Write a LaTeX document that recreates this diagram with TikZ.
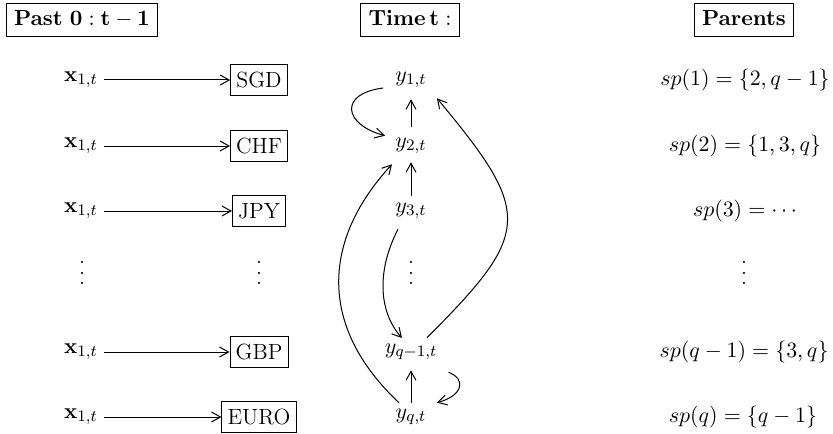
\documentclass[tikz,border=0pt]{standalone}
\usetikzlibrary{arrows.meta}
\newcommand\myvd{\vbox{\baselineskip5.2pt\lineskiplimit0pt\hbox{.}\hbox{.}\hbox{.}}}
\begin{document}
\begin{tikzpicture}[x=0.5pt,y=-0.5pt,
  every node/.style={font=\fontsize{11}{13}\selectfont},
  box/.style={draw,line width=0.5pt,inner xsep=2.8pt,inner ysep=3.8pt},
  hbox/.style={draw,line width=0.5pt,inner xsep=4pt,inner ysep=3.3pt,text height=7.6pt,text depth=2.2pt},
  lab/.style={inner sep=3pt},
  arr/.style={-{Straight Barb[length=4.5pt,width=5pt,line width=0.5pt]},line width=0.5pt},
  dts/.style={inner sep=0pt}]
\useasboundingbox (0,0) rectangle (833,433);
% headers
\node[hbox] (h1) at (82,20) {$\mathbf{Past\ 0:t-1}$};
\node[hbox] (h2) at (410,20) {$\mathbf{Time\,t:}$};
\node[hbox] (h3) at (744,20) {$\mathbf{Parents}$};
% left column
\foreach \n/\yy/\cur in {a/80/SGD,b/146/CHF,c/211/JPY,d/352/GBP,e/417/EURO}{
  \node[lab] (x\n) at (81,\yy) {$\mathbf{x}_{1,t}$};
  \node[box] (c\n) at (259,\yy) {\cur};
  \draw[arr] (x\n) -- (c\n);
}
\node[dts] (dl) at (82,273) {\myvd};
\node[dts] (dc) at (259,273) {\myvd};
% middle column
\node[lab] (y1) at (411,80) {$y_{1,t}$};
\node[lab] (y2) at (411,146) {$y_{2,t}$};
\node[lab] (y3) at (411,211) {$y_{3,t}$};
\node[dts] (dm) at (411,273) {\myvd};
\node[lab] (yq1) at (411,352) {$y_{q-1,t}$};
\node[lab] (yq) at (411,417) {$y_{q,t}$};
\draw[arr,shorten >=2.5pt,shorten <=2.5pt] (y2) -- (y1);
\draw[arr,shorten >=1pt,shorten <=0.5pt] (y3) -- (y2);
\draw[arr,shorten >=2pt] (yq) -- (yq1);
\draw[arr] ([shift={(-6,8)}]y1.west) .. controls +(-45,6) and +(-41,-11) .. ([shift={(-4,4)}]y2.north west);
\draw[arr] ([shift={(-13,4)}]y3.south) .. controls +(-20,38) and +(-25,-28) .. ([xshift=-4.5pt]yq1.south |- 0,338);
\draw[arr] ([shift={(5,6)}]yq1.south east) .. controls +(18,7) and +(26,-7) .. ([shift={(4,0)}]yq.north east);
\draw[arr] ([xshift=-6pt]yq.north) .. controls +(-79,-74) and +(-72,78) .. ([shift={(-19,4)}]y2.south);
\draw[arr] ([xshift=8pt]yq1.north) .. controls +(105,-105) and +(96,115) .. ([shift={(4,4)}]y1.south east);
% right column
\node[lab] (p1) at (745,80) {$sp(1)=\{2,q-1\}$};
\node[lab] (p2) at (745,146) {$sp(2)=\{1,3,q\}$};
\node[lab] (p3) at (745,211) {$sp(3)=\cdots$};
\node[dts] (dr) at (744,273) {\myvd};
\node[lab] (p4) at (744,352) {$sp(q-1)=\{3,q\}$};
\node[lab] (p5) at (743,417) {$sp(q)=\{q-1\}$};
\end{tikzpicture}
\end{document}
